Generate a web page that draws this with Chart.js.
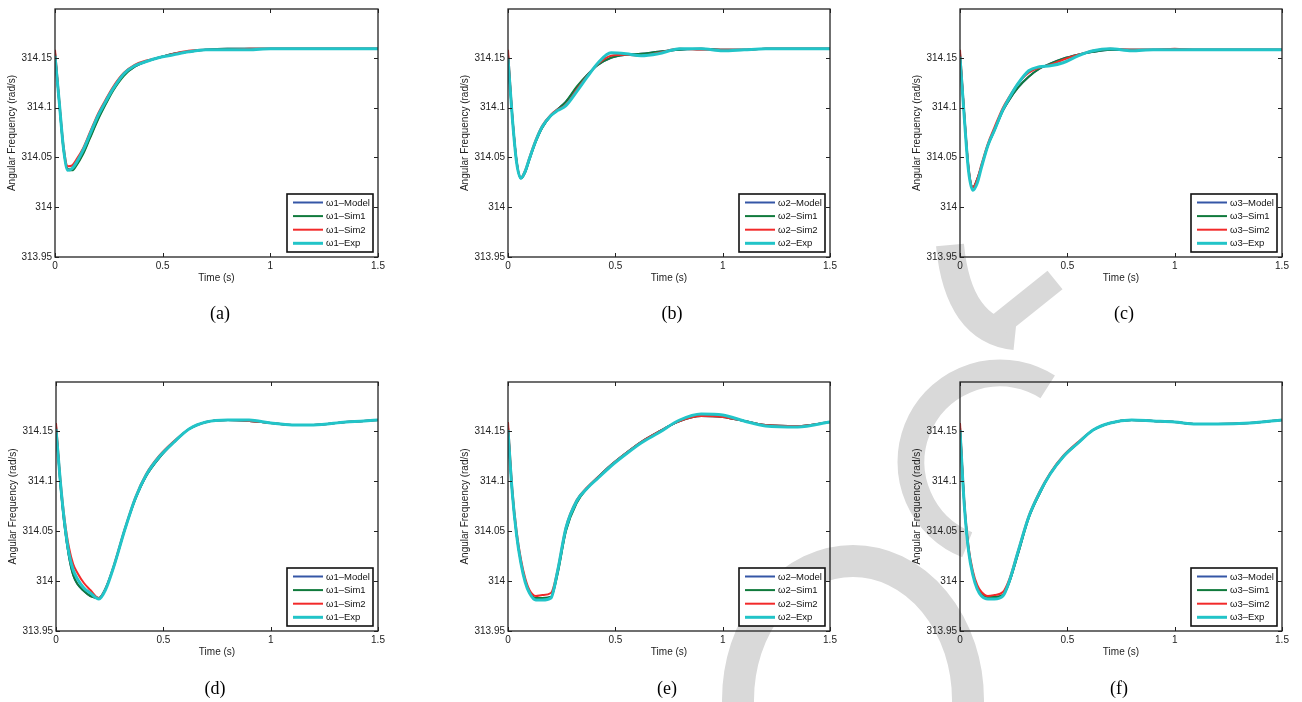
<!DOCTYPE html>
<html>
<head>
<meta charset="utf-8">
<script src="https://cdn.jsdelivr.net/npm/chart.js@4.4.1/dist/chart.umd.min.js"></script>
<style>
  html, body { margin: 0; padding: 0; background: #fff; }
  #page { position: relative; width: 1302px; height: 702px; overflow: hidden; }
  #page canvas { position: absolute; }
  .cap { position: absolute; font-family: "Liberation Serif", "Times New Roman", serif; font-size: 18px; color: #000; transform: translate(-50%, -50%); }
</style>
</head>
<body>
<div id="page"><canvas id="mark" width="1302" height="702" style="left:0;top:0"></canvas></div>
<script>
// time axis shared by every panel (s)
const T = [0, 0.02, 0.04, 0.06, 0.08, 0.1, 0.13, 0.16, 0.2, 0.23, 0.27, 0.32, 0.37, 0.42, 0.48, 0.55, 0.62, 0.7, 0.8, 0.9, 1.0, 1.1, 1.2, 1.35, 1.5];
const YTICKS = [313.95, 314, 314.05, 314.1, 314.15];
const XTICKS = [0, 0.5, 1, 1.5];
const SERIES = ['Model', 'Sim1', 'Sim2', 'Exp'];
const COLORS = ['#3556a6', '#107a3c', '#f22a2a', '#22c4c8'];

// (a) omega1, case 1
const A_MODEL = [314.155, 314.104, 314.058, 314.038, 314.038, 314.043, 314.054, 314.069, 314.089, 314.102, 314.118, 314.133, 314.141, 314.146, 314.150, 314.154, 314.156, 314.158, 314.159, 314.159, 314.159, 314.159, 314.159, 314.159, 314.159];
const A_SIM1 = [314.155, 314.104, 314.057, 314.038, 314.037, 314.042, 314.053, 314.068, 314.088, 314.101, 314.117, 314.132, 314.141, 314.146, 314.150, 314.154, 314.156, 314.158, 314.159, 314.159, 314.159, 314.159, 314.159, 314.159, 314.159];
const A_SIM2 = [314.158, 314.107, 314.061, 314.041, 314.042, 314.048, 314.059, 314.074, 314.094, 314.106, 314.121, 314.135, 314.143, 314.147, 314.150, 314.154, 314.157, 314.158, 314.158, 314.159, 314.159, 314.159, 314.159, 314.159, 314.159];
const A_EXP = [314.152, 314.105, 314.058, 314.037, 314.039, 314.045, 314.057, 314.072, 314.092, 314.104, 314.119, 314.134, 314.142, 314.146, 314.150, 314.153, 314.156, 314.158, 314.158, 314.158, 314.159, 314.159, 314.159, 314.159, 314.159];

// (b) omega2, case 1
const B_MODEL = [314.153, 314.091, 314.046, 314.029, 314.035, 314.048, 314.066, 314.080, 314.092, 314.098, 314.106, 314.120, 314.133, 314.143, 314.150, 314.153, 314.154, 314.156, 314.158, 314.159, 314.158, 314.158, 314.159, 314.159, 314.159];
const B_SIM1 = [314.153, 314.091, 314.046, 314.029, 314.035, 314.048, 314.066, 314.080, 314.092, 314.098, 314.106, 314.121, 314.133, 314.143, 314.150, 314.153, 314.154, 314.156, 314.158, 314.159, 314.158, 314.158, 314.159, 314.159, 314.159];
const B_SIM2 = [314.158, 314.093, 314.047, 314.030, 314.037, 314.050, 314.068, 314.082, 314.093, 314.098, 314.103, 314.118, 314.132, 314.144, 314.152, 314.153, 314.152, 314.155, 314.159, 314.158, 314.158, 314.158, 314.159, 314.159, 314.159];
const B_EXP = [314.150, 314.090, 314.045, 314.029, 314.036, 314.049, 314.067, 314.081, 314.092, 314.097, 314.102, 314.116, 314.131, 314.145, 314.155, 314.154, 314.152, 314.154, 314.159, 314.159, 314.157, 314.158, 314.159, 314.159, 314.159];

// (c) omega3, case 1
const C_MODEL = [314.154, 314.092, 314.038, 314.020, 314.028, 314.041, 314.062, 314.077, 314.097, 314.108, 314.120, 314.131, 314.139, 314.144, 314.149, 314.153, 314.156, 314.158, 314.158, 314.158, 314.158, 314.158, 314.158, 314.158, 314.158];
const C_SIM1 = [314.154, 314.092, 314.038, 314.020, 314.028, 314.041, 314.062, 314.077, 314.097, 314.108, 314.120, 314.131, 314.139, 314.144, 314.149, 314.153, 314.156, 314.158, 314.158, 314.158, 314.158, 314.158, 314.158, 314.158, 314.158];
const C_SIM2 = [314.158, 314.094, 314.040, 314.020, 314.028, 314.043, 314.064, 314.080, 314.100, 314.111, 314.124, 314.135, 314.140, 314.143, 314.148, 314.153, 314.157, 314.159, 314.158, 314.158, 314.159, 314.158, 314.158, 314.158, 314.158];
const C_EXP = [314.151, 314.090, 314.036, 314.017, 314.024, 314.040, 314.062, 314.077, 314.098, 314.110, 314.124, 314.137, 314.141, 314.142, 314.145, 314.152, 314.157, 314.159, 314.157, 314.158, 314.158, 314.158, 314.158, 314.158, 314.158];

// (d) omega1, case 2
const D_MODEL = [314.155, 314.098, 314.055, 314.025, 314.006, 313.997, 313.990, 313.985, 313.983, 313.992, 314.015, 314.051, 314.082, 314.105, 314.123, 314.139, 314.152, 314.159, 314.161, 314.160, 314.158, 314.156, 314.156, 314.159, 314.161];
const D_SIM1 = [314.155, 314.098, 314.055, 314.025, 314.006, 313.997, 313.990, 313.985, 313.983, 313.992, 314.015, 314.051, 314.082, 314.105, 314.123, 314.139, 314.152, 314.159, 314.161, 314.160, 314.158, 314.156, 314.156, 314.159, 314.161];
const D_SIM2 = [314.158, 314.103, 314.062, 314.034, 314.017, 314.008, 313.998, 313.991, 313.983, 313.992, 314.016, 314.052, 314.084, 314.107, 314.125, 314.140, 314.152, 314.159, 314.161, 314.160, 314.158, 314.156, 314.156, 314.159, 314.161];
const D_EXP = [314.152, 314.100, 314.058, 314.028, 314.011, 314.002, 313.993, 313.988, 313.982, 313.991, 314.015, 314.051, 314.083, 314.106, 314.124, 314.139, 314.152, 314.159, 314.161, 314.161, 314.158, 314.156, 314.156, 314.159, 314.161];

// (e) omega2, case 2
const E_MODEL = [314.154, 314.088, 314.046, 314.019, 314.000, 313.989, 313.983, 313.983, 313.984, 314.007, 314.051, 314.079, 314.093, 314.104, 314.116, 314.128, 314.139, 314.149, 314.160, 314.165, 314.164, 314.160, 314.156, 314.155, 314.159];
const E_SIM1 = [314.154, 314.088, 314.046, 314.019, 314.000, 313.989, 313.983, 313.983, 313.984, 314.006, 314.050, 314.078, 314.093, 314.104, 314.116, 314.128, 314.139, 314.149, 314.160, 314.165, 314.164, 314.160, 314.156, 314.155, 314.159];
const E_SIM2 = [314.159, 314.092, 314.050, 314.022, 314.003, 313.991, 313.985, 313.986, 313.988, 314.010, 314.054, 314.081, 314.094, 314.104, 314.116, 314.128, 314.139, 314.149, 314.160, 314.165, 314.164, 314.160, 314.156, 314.155, 314.159];
const E_EXP = [314.151, 314.088, 314.046, 314.018, 313.999, 313.988, 313.981, 313.981, 313.983, 314.009, 314.053, 314.080, 314.093, 314.103, 314.115, 314.127, 314.138, 314.148, 314.161, 314.167, 314.166, 314.160, 314.155, 314.154, 314.159];

// (f) omega3, case 2
const F_MODEL = [314.154, 314.077, 314.031, 314.007, 313.994, 313.987, 313.984, 313.984, 313.986, 313.999, 314.027, 314.063, 314.087, 314.107, 314.124, 314.138, 314.151, 314.158, 314.161, 314.160, 314.159, 314.157, 314.157, 314.158, 314.161];
const F_SIM1 = [314.154, 314.077, 314.031, 314.007, 313.994, 313.987, 313.984, 313.984, 313.986, 313.999, 314.027, 314.063, 314.087, 314.107, 314.124, 314.138, 314.151, 314.158, 314.161, 314.160, 314.159, 314.157, 314.157, 314.158, 314.161];
const F_SIM2 = [314.158, 314.080, 314.034, 314.010, 313.996, 313.989, 313.985, 313.986, 313.989, 314.002, 314.030, 314.065, 314.089, 314.108, 314.125, 314.139, 314.151, 314.158, 314.161, 314.160, 314.159, 314.157, 314.157, 314.158, 314.161];
const F_EXP = [314.151, 314.076, 314.030, 314.006, 313.992, 313.985, 313.982, 313.982, 313.985, 314.000, 314.029, 314.064, 314.088, 314.107, 314.124, 314.138, 314.151, 314.158, 314.161, 314.160, 314.159, 314.157, 314.157, 314.158, 314.161];

// panel layout: plot-area box in page pixels, caption position
const panels = [
  { cap: '(a)', w: 1, data: [A_MODEL, A_SIM1, A_SIM2, A_EXP], left: 55,  top: 4,   pw: 323, ph: 253, cx: 220,  cy: 313 },
  { cap: '(b)', w: 2, data: [B_MODEL, B_SIM1, B_SIM2, B_EXP], left: 508, top: 4,   pw: 322, ph: 253, cx: 672,  cy: 313 },
  { cap: '(c)', w: 3, data: [C_MODEL, C_SIM1, C_SIM2, C_EXP], left: 960, top: 4,   pw: 322, ph: 253, cx: 1124, cy: 313 },
  { cap: '(d)', w: 1, data: [D_MODEL, D_SIM1, D_SIM2, D_EXP], left: 56,  top: 377, pw: 322, ph: 254, cx: 215,  cy: 688 },
  { cap: '(e)', w: 2, data: [E_MODEL, E_SIM1, E_SIM2, E_EXP], left: 508, top: 377, pw: 322, ph: 254, cx: 667,  cy: 688 },
  { cap: '(f)', w: 3, data: [F_MODEL, F_SIM1, F_SIM2, F_EXP], left: 960, top: 377, pw: 322, ph: 254, cx: 1119, cy: 688 }
];

const FONT = '"Liberation Sans", Arial, sans-serif';

// light grey proof watermark pieces sitting behind the figure
function drawMark() {
  const ctx = document.getElementById('mark').getContext('2d');
  ctx.strokeStyle = '#d9d9d9';
  ctx.lineCap = 'butt';
  ctx.lineWidth = 32;
  ctx.beginPath();
  ctx.ellipse(853, 700, 115, 139, 0, 0, Math.PI * 2);
  ctx.stroke();
  ctx.lineWidth = 27;
  ctx.beginPath();
  ctx.arc(1000, 462, 89, Math.PI * 0.62, Math.PI * 1.68);
  ctx.stroke();
  ctx.lineWidth = 28;
  ctx.beginPath();
  ctx.moveTo(950, 245);
  ctx.quadraticCurveTo(958, 330, 1015, 336);
  ctx.stroke();
  ctx.lineWidth = 24;
  ctx.beginPath();
  ctx.moveTo(1000, 324);
  ctx.lineTo(1055, 280);
  ctx.stroke();
}
drawMark();

// matlab style box with inward ticks and a boxed legend in the corner
const matlabBox = {
  id: 'matlabBox',
  afterDatasetsDraw(chart) {
    const { ctx, chartArea: a, scales: { x, y } } = chart;
    ctx.save();
    ctx.strokeStyle = '#222';
    ctx.lineWidth = 1.3;
    ctx.strokeRect(a.left, a.top, a.width, a.height);
    ctx.lineWidth = 1;
    ctx.beginPath();
    XTICKS.forEach(v => {
      const px = Math.round(x.getPixelForValue(v)) + 0.5;
      ctx.moveTo(px, a.bottom); ctx.lineTo(px, a.bottom - 4);
      ctx.moveTo(px, a.top); ctx.lineTo(px, a.top + 4);
    });
    YTICKS.forEach(v => {
      const py = Math.round(y.getPixelForValue(v)) + 0.5;
      ctx.moveTo(a.left, py); ctx.lineTo(a.left + 4, py);
      ctx.moveTo(a.right, py); ctx.lineTo(a.right - 4, py);
    });
    ctx.stroke();

    // legend
    const bw = 86, bh = 58;
    const bx = a.right - 5 - bw, by = a.bottom - 5 - bh;
    ctx.fillStyle = '#fff';
    ctx.fillRect(bx, by, bw, bh);
    ctx.strokeStyle = '#111';
    ctx.lineWidth = 1.6;
    ctx.strokeRect(bx, by, bw, bh);
    ctx.font = '9.5px ' + FONT;
    ctx.textBaseline = 'middle';
    chart.data.datasets.forEach((ds, i) => {
      const ly = by + 8.5 + i * 13.6;
      ctx.strokeStyle = ds.borderColor;
      ctx.lineWidth = ds.borderWidth;
      ctx.beginPath();
      ctx.moveTo(bx + 6, ly); ctx.lineTo(bx + 36, ly);
      ctx.stroke();
      ctx.fillStyle = '#111';
      ctx.fillText(ds.label, bx + 39, ly + 0.5);
    });
    ctx.restore();
  }
};

const page = document.getElementById('page');

panels.forEach(p => {
  const cv = document.createElement('canvas');
  const W = 55 + p.pw + 12, H = 4 + p.ph + 30;
  cv.width = W; cv.height = H;
  cv.style.left = (p.left - 55) + 'px';
  cv.style.top = (p.top - 4) + 'px';
  cv.style.width = W + 'px'; cv.style.height = H + 'px';
  page.appendChild(cv);

  const cap = document.createElement('div');
  cap.className = 'cap';
  cap.textContent = p.cap;
  cap.style.left = p.cx + 'px';
  cap.style.top = p.cy + 'px';
  page.appendChild(cap);

  const datasets = SERIES.map((name, i) => ({
    label: '\u03c9' + p.w + '\u2013' + name,
    data: T.map((t, k) => ({ x: t, y: p.data[i][k] })),
    borderColor: COLORS[i],
    borderWidth: name === 'Exp' ? 3 : 2,
    pointRadius: 0,
    cubicInterpolationMode: 'monotone',
    order: 3 - i
  }));

  new Chart(cv, {
    type: 'line',
    data: { datasets },
    plugins: [matlabBox],
    options: {
      responsive: false,
      animation: false,
      devicePixelRatio: 1,
      layout: { padding: { left: 0, top: 4, right: 12, bottom: 0 } },
      plugins: { legend: { display: false }, tooltip: { enabled: false } },
      scales: {
        x: {
          type: 'linear', min: 0, max: 1.5,
          grid: { display: false, drawTicks: false },
          border: { display: false },
          afterBuildTicks: s => { s.ticks = XTICKS.map(v => ({ value: v })); },
          afterFit: s => { s.height = 30; },
          ticks: { padding: 3, color: '#222', font: { family: FONT, size: 10 }, maxRotation: 0, callback: v => String(v) },
          title: { display: true, text: 'Time (s)', color: '#222', font: { family: FONT, size: 10 }, padding: { top: 0, bottom: 3 } }
        },
        y: {
          type: 'linear', min: 313.95, max: 314.199,
          grid: { display: false, drawTicks: false },
          border: { display: false },
          afterBuildTicks: s => { s.ticks = YTICKS.map(v => ({ value: v })); },
          afterFit: s => { s.width = 55; },
          ticks: { padding: 3, color: '#222', font: { family: FONT, size: 10 }, callback: v => String(+v.toFixed(2)) },
          title: { display: true, text: 'Angular Frequency (rad/s)', color: '#222', font: { family: FONT, size: 10 }, padding: { top: 6.5, bottom: 0 } }
        }
      }
    }
  });
});
</script>
</body>
</html>
